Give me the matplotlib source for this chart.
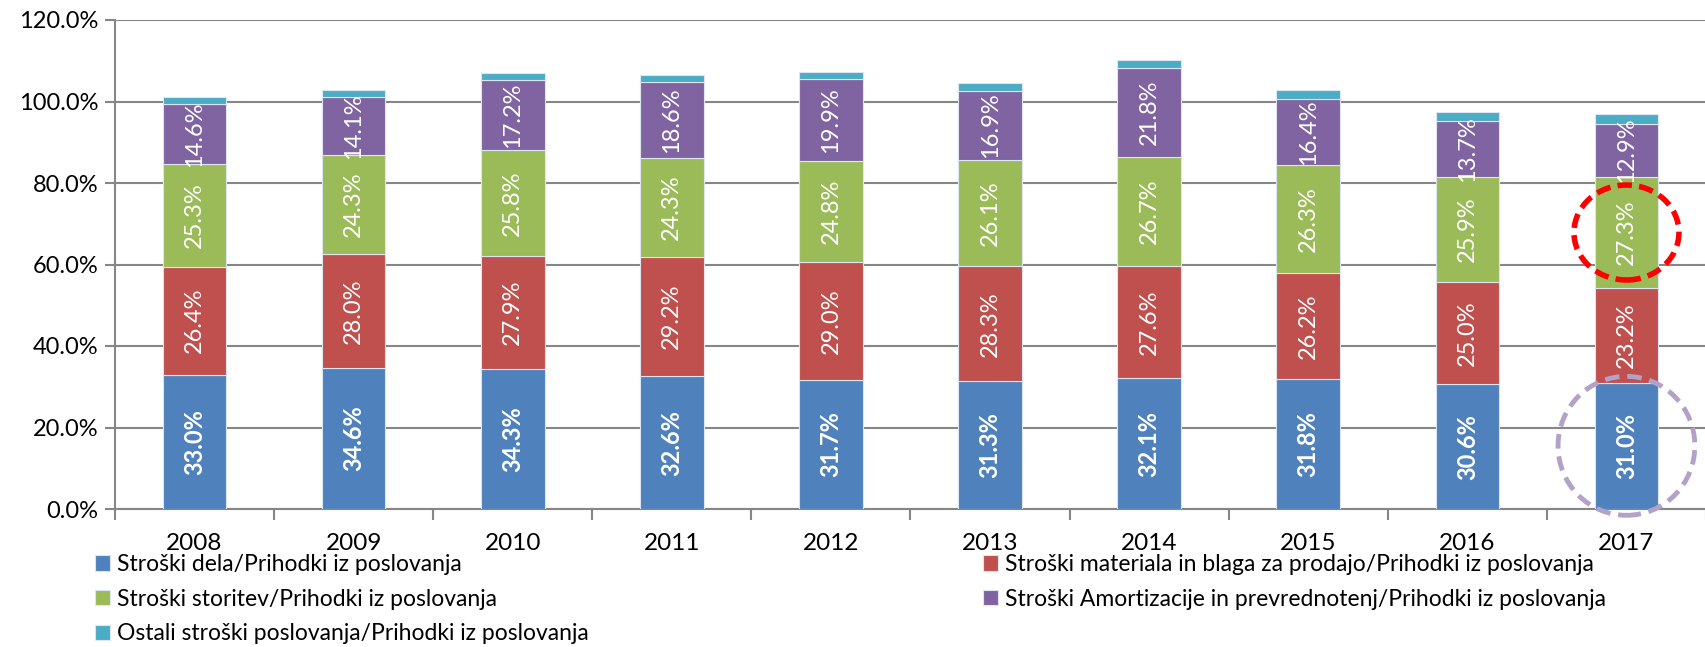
import matplotlib
matplotlib.use("Agg")
import matplotlib.pyplot as plt
from matplotlib.patches import Ellipse
from matplotlib.ticker import FuncFormatter, FixedLocator
import numpy as np

plt.rcParams['font.family'] = ['Lato', 'DejaVu Sans']

years = ["2008", "2009", "2010", "2011", "2012", "2013", "2014", "2015", "2016", "2017"]
stroski_dela = [33.0, 34.6, 34.3, 32.6, 31.7, 31.3, 32.1, 31.8, 30.6, 31.0]
stroski_materiala = [26.4, 28.0, 27.9, 29.2, 29.0, 28.3, 27.6, 26.2, 25.0, 23.2]
stroski_storitev = [25.3, 24.3, 25.8, 24.3, 24.8, 26.1, 26.7, 26.3, 25.9, 27.3]
stroski_amortizacije = [14.6, 14.1, 17.2, 18.6, 19.9, 16.9, 21.8, 16.4, 13.7, 12.9]
ostali_stroski = [1.8, 1.9, 1.9, 1.7, 1.8, 2.0, 2.0, 2.1, 2.2, 2.5]

names = [
    "Stroški dela/Prihodki iz poslovanja",
    "Stroški materiala in blaga za prodajo/Prihodki iz poslovanja",
    "Stroški storitev/Prihodki iz poslovanja",
    "Stroški Amortizacije in prevrednotenj/Prihodki iz poslovanja",
    "Ostali stroški poslovanja/Prihodki iz poslovanja",
]
colors = ["#4F81BD", "#C0504D", "#9BBB59", "#8064A2", "#4BACC6"]
series = [stroski_dela, stroski_materiala, stroski_storitev, stroski_amortizacije, ostali_stroski]

fig = plt.figure(figsize=(17.06, 6.47), dpi=100)
ax = fig.add_axes([115 / 1706, 138 / 647, 1 - 115 / 1706, 489 / 647])

x = np.arange(len(years))
bottom = np.zeros(len(years))
handles = []
for i, (vals, col, name) in enumerate(zip(series, colors, names)):
    vals = np.array(vals)
    h = ax.bar(x, vals, width=0.40, bottom=bottom, color=col, edgecolor="#DDE6F0",
               linewidth=0.8, label=name, zorder=3)
    handles.append(h)
    if i < 4:
        for xi, b, v in zip(x, bottom, vals):
            ax.text(xi, b + v / 2, f"{v:.1f}%", rotation=90, ha="center", va="center",
                    color="white", fontsize=17,
                    fontweight="bold" if i == 0 else "normal", zorder=4)
    bottom += vals

# annotation circles on 2017
ax.add_patch(Ellipse((9, stroski_dela[9] + stroski_materiala[9] + stroski_storitev[9] / 2),
                     0.66, 23.3, fill=False, edgecolor="#FF0000", linewidth=4,
                     linestyle=(0, (2.6, 1.3)), zorder=5, clip_on=False))
ax.add_patch(Ellipse((9, stroski_dela[9] / 2), 0.86, 34.1, fill=False,
                     edgecolor="#B3A2C7", linewidth=3.5, linestyle=(0, (3, 1.6)),
                     zorder=5, clip_on=False))

ax.set_ylim(0, 120)
ax.set_xlim(-0.5, 9.456)
ax.yaxis.set_major_locator(FixedLocator(np.arange(0, 121, 20)))
ax.yaxis.set_major_formatter(FuncFormatter(lambda v, p: f"{v:.1f}%"))
ax.grid(axis="y", color="#868686", linewidth=1.5, zorder=0)
ax.set_axisbelow(True)

ax.set_xticks(x)
ax.set_xticklabels(years, fontsize=17.5)
ax.set_xticks(np.arange(-0.5, 10, 1), minor=True)
ax.tick_params(axis="x", which="major", length=0, pad=17)
ax.tick_params(axis="x", which="minor", length=8, width=1.5, color="#868686", direction="out")
ax.tick_params(axis="y", length=7, width=1.5, color="#868686", labelsize=17, pad=5)

for s in ["top", "right"]:
    ax.spines[s].set_visible(False)
for s in ["left", "bottom"]:
    ax.spines[s].set_color("#868686")
    ax.spines[s].set_linewidth(1.5)

common = dict(loc="upper left", frameon=False, fontsize=16.5, handlelength=0.65,
              handleheight=0.65, handletextpad=0.3, labelspacing=0.6, borderpad=0,
              borderaxespad=0)
fig.legend([handles[0], handles[2], handles[4]], [names[0], names[2], names[4]],
           bbox_to_anchor=(95 / 1706, 1 - 554 / 647), **common)
fig.legend([handles[1], handles[3]], [names[1], names[3]],
           bbox_to_anchor=(983 / 1706, 1 - 554 / 647), **common)

fig.savefig("out.png", dpi=100)
